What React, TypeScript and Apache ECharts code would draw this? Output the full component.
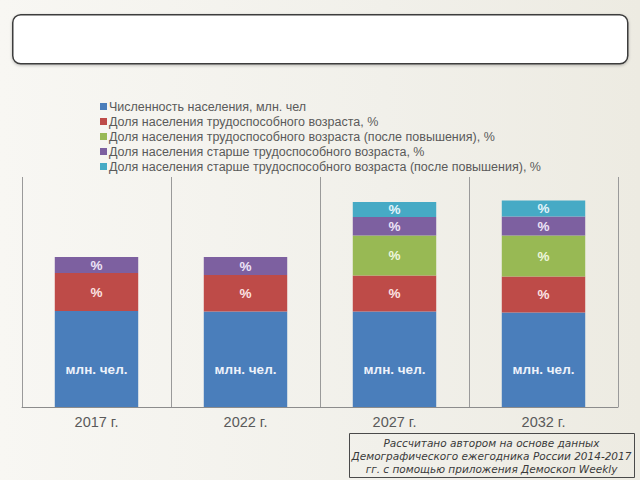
import React, { useEffect, useRef } from "react";
import * as echarts from "echarts";

const categories = ["2017 г.", "2022 г.", "2027 г.", "2032 г."];
const seriesNames = [
  "Численность населения, млн. чел",
  "Доля населения трудоспособного возраста, %",
  "Доля населения трудоспособного возраста (после повышения), %",
  "Доля населения старше трудоспособного возраста, %",
  "Доля населения старше трудоспособного возраста (после повышения), %",
];
const populationValues = [96, 95.5, 95.5, 94.5];
const workingAgeValues = [38, 36.5, 36, 36];
const workingAgeRaisedValues: (number | null)[] = [null, null, 40, 41];
const elderlyValues = [16, 18, 18.5, 19];
const elderlyRaisedValues: (number | null)[] = [null, null, 15, 16];
const segmentLabels = ["млн. чел.", "%", "%", "%", "%"];
const footnoteLines = [
  "Рассчитано автором на основе данных",
  "Демографического ежегодника России 2014-2017",
  "гг. с помощью приложения Демоскоп Weekly",
];

const colors = ["#4A7EBB", "#BE4B48", "#98B954", "#7D60A0", "#46AAC5"];
const labelColors = ["#EEF2FA", "#FBE3E3", "#EEF6DC", "#EDE4F7", "#E3F4FA"];

export default function App() {
  const ref = useRef<HTMLDivElement>(null);
  useEffect(() => {
    if (!ref.current) return;
    const chart = echarts.init(ref.current, undefined, { renderer: "svg" });
    const dataSets = [
      populationValues,
      workingAgeValues,
      workingAgeRaisedValues,
      elderlyValues,
      elderlyRaisedValues,
    ];
    const series = dataSets.map((d, i) => ({
      name: seriesNames[i],
      type: "bar",
      stack: "total",
      barWidth: "56%",
      data: d.map((v) => (v == null ? "-" : v)),
      itemStyle: { color: colors[i] },
      label: {
        show: true,
        formatter: segmentLabels[i],
        position: i === 0 ? "insideBottom" : "inside",
        distance: i === 0 ? 31 : 5,
        color: labelColors[i],
        fontFamily: "Liberation Sans, Arial, sans-serif",
        fontWeight: "bold",
        fontSize: 13.5,
      },
    }));
    chart.setOption({
      animation: false,
      backgroundColor: "transparent",
      color: colors,
      legend: {
        orient: "vertical",
        left: 95,
        top: 95,
        itemWidth: 7,
        itemHeight: 7,
        itemGap: 2,
        icon: "rect",
        selectedMode: false,
        data: seriesNames,
        textStyle: {
          fontSize: 12.5,
          color: "#5a5a5a",
          fontFamily: "Liberation Sans, Arial, sans-serif",
          lineHeight: 13,
          padding: [0, 0, 0, -3],
        },
      },
      grid: { left: 22, right: 22, top: 177, bottom: 73 },
      xAxis: {
        type: "category",
        data: categories,
        axisLine: { lineStyle: { color: "#8c8c8c", width: 1 } },
        axisTick: { show: false },
        splitLine: { show: true, lineStyle: { color: "#9a9a9a", width: 1 } },
        axisLabel: {
          color: "#5a5a5a",
          fontSize: 14.5,
          fontFamily: "Liberation Sans, Arial, sans-serif",
          margin: 7,
        },
      },
      yAxis: {
        type: "value",
        min: 0,
        max: 230,
        show: false,
        splitLine: { show: false },
      },
      graphic: [
        {
          type: "rect",
          left: 12,
          top: 14,
          shape: { width: 615, height: 49, r: 8 },
          style: {
            fill: "#ffffff",
            stroke: "#3c3c3c",
            lineWidth: 1.5,
            shadowBlur: 3,
            shadowColor: "rgba(0,0,0,0.25)",
            shadowOffsetY: 1,
          },
        },
        {
          type: "rect",
          left: 349,
          top: 433,
          shape: { width: 285, height: 44 },
          style: { fill: "transparent", stroke: "#4a4a4a", lineWidth: 1 },
        },
        {
          type: "text",
          x: 491.5,
          y: 436,
          style: {
            text: footnoteLines.join("\n"),
            align: "center",
            verticalAlign: "top",
            fill: "#3a3a3a",
            fontSize: 10.5,
            lineHeight: 13,
            fontStyle: "italic",
            fontFamily: "DejaVu Sans, sans-serif",
          },
        },
      ],
      series,
    });
    return () => chart.dispose();
  }, []);
  return (
    <div
      ref={ref}
      style={{
        position: "fixed",
        left: 0,
        top: 0,
        width: 640,
        height: 480,
        background: "linear-gradient(90deg, #f8f7f3 0%, #f1f0ea 60%, #edebe2 100%)",
      }}
    />
  );
}
